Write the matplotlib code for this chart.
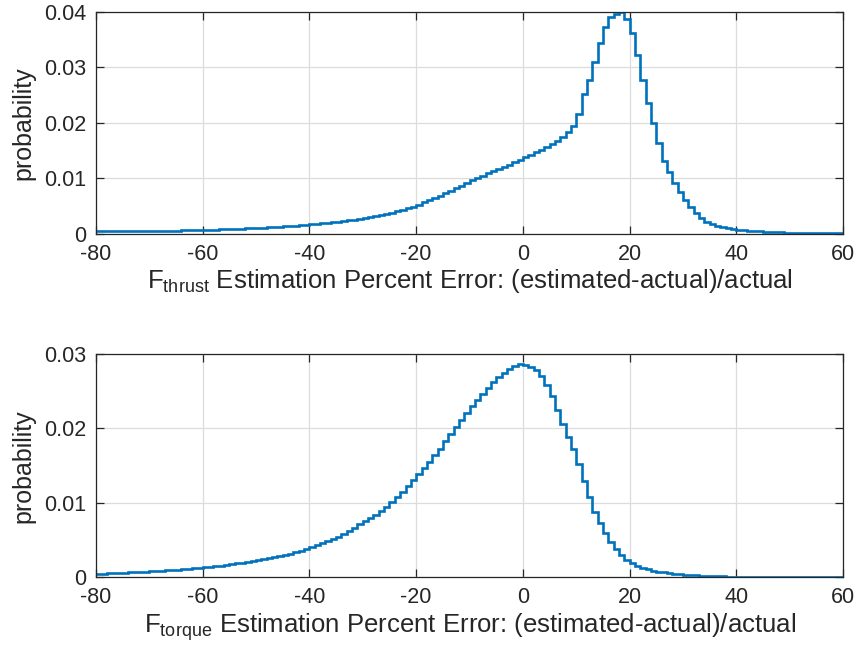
import numpy as np
import matplotlib
matplotlib.use("Agg")
import matplotlib.pyplot as plt

plt.rcParams['font.family'] = ['Liberation Sans', 'DejaVu Sans']

# histogram bins: 1 percent wide, -80 .. 60
bin_edges = np.arange(-80, 61, 1)

# probability per bin, thrust force estimate
thrust_prob = [
    # -80 .. -61
    0.00045, 0.00046, 0.00047, 0.00048, 0.00049, 0.00050, 0.00051, 0.00052, 0.00053, 0.00054,
    0.00055, 0.00056, 0.00057, 0.00059, 0.00060, 0.00062, 0.00064, 0.00066, 0.00068, 0.00070,
    # -60 .. -41
    0.00072, 0.00075, 0.00078, 0.00081, 0.00084, 0.00088, 0.00092, 0.00096, 0.00100, 0.00105,
    0.00110, 0.00115, 0.00120, 0.00126, 0.00132, 0.00138, 0.00145, 0.00152, 0.00160, 0.00170,
    # -40 .. -21
    0.00180, 0.00188, 0.00196, 0.00205, 0.00215, 0.00225, 0.00236, 0.00247, 0.00258, 0.00270,
    0.00283, 0.00300, 0.00318, 0.00338, 0.00360, 0.00384, 0.00410, 0.00437, 0.00465, 0.00495,
    # -20 .. -1
    0.0053, 0.0057, 0.0061, 0.0065, 0.0069, 0.0073, 0.0078, 0.0083, 0.0087, 0.0092,
    0.0097, 0.0101, 0.0105, 0.0109, 0.0113, 0.0117, 0.0121, 0.0125, 0.0129, 0.0134,
    # 0 .. 19
    0.0138, 0.0142, 0.0147, 0.0152, 0.0157, 0.0162, 0.0168, 0.0175, 0.0183, 0.0195,
    0.0217, 0.0253, 0.0277, 0.0310, 0.0344, 0.0373, 0.0391, 0.0396, 0.0400, 0.0388,
    # 20 .. 39
    0.0362, 0.0322, 0.0277, 0.0236, 0.0200, 0.0164, 0.0132, 0.0112, 0.0092, 0.0075,
    0.0061, 0.0049, 0.0038, 0.0028, 0.0022, 0.0018, 0.0014, 0.0012, 0.0010, 0.0009,
    # 40 .. 59
    0.00080, 0.00070, 0.00060, 0.00050, 0.00045, 0.00040, 0.00035, 0.00030, 0.00027, 0.00024,
    0.00020, 0.00018, 0.00016, 0.00015, 0.00014, 0.00013, 0.00012, 0.00011, 0.00010, 0.00010,
]

# probability per bin, torque force estimate
torque_prob = [
    # -80 .. -61
    0.00050, 0.00053, 0.00056, 0.00059, 0.00062, 0.00065, 0.00068, 0.00071, 0.00075, 0.00079,
    0.00083, 0.00087, 0.00091, 0.00096, 0.00101, 0.00106, 0.00111, 0.00117, 0.00123, 0.00130,
    # -60 .. -41
    0.00137, 0.00144, 0.00152, 0.00160, 0.00169, 0.00178, 0.00188, 0.00198, 0.00209, 0.00220,
    0.00232, 0.00245, 0.00258, 0.00272, 0.00287, 0.00303, 0.00320, 0.00338, 0.00357, 0.00377,
    # -40 .. -21
    0.0041, 0.0043, 0.0046, 0.0049, 0.0052, 0.0055, 0.0059, 0.0063, 0.0067, 0.0072,
    0.0076, 0.0080, 0.0084, 0.0089, 0.0094, 0.0101, 0.0108, 0.0115, 0.0123, 0.0131,
    # -20 .. -1
    0.0139, 0.0147, 0.0155, 0.0164, 0.0173, 0.0183, 0.0192, 0.0202, 0.0212, 0.0221,
    0.0230, 0.0238, 0.0246, 0.0254, 0.0262, 0.0269, 0.0275, 0.0280, 0.0284, 0.0286,
    # 0 .. 19
    0.0285, 0.0283, 0.0279, 0.0270, 0.0258, 0.0244, 0.0225, 0.0206, 0.0188, 0.0172,
    0.0152, 0.0130, 0.0108, 0.0088, 0.0073, 0.0060, 0.0048, 0.0038, 0.0030, 0.0024,
    # 20 .. 39
    0.00190, 0.00160, 0.00130, 0.00110, 0.00090, 0.00080, 0.00070, 0.00060, 0.00050, 0.00045,
    0.00040, 0.00035, 0.00030, 0.00025, 0.00020, 0.00018, 0.00016, 0.00014, 0.00012, 0.00010,
    # 40 .. 59
    0.00010, 0.00010, 0.00009, 0.00009, 0.00009, 0.00008, 0.00008, 0.00008, 0.00008, 0.00008,
    0.00008, 0.00008, 0.00008, 0.00008, 0.00008, 0.00008, 0.00008, 0.00008, 0.00008, 0.00008,
]

x_ticks = [-80, -60, -40, -20, 0, 20, 40, 60]
thrust_yticks = [0, 0.01, 0.02, 0.03, 0.04]
torque_yticks = [0, 0.01, 0.02, 0.03]
tick_labels_thrust = ['0', '0.01', '0.02', '0.03', '0.04']
tick_labels_torque = ['0', '0.01', '0.02', '0.03']

line_blue = '#0072BD'
axis_grey = '#262626'

fig = plt.figure(figsize=(8.59, 6.64), dpi=100)
ax1 = fig.add_axes([0.1118, 0.6476, 0.8696, 0.3344])
ax2 = fig.add_axes([0.1118, 0.1303, 0.8696, 0.3366])


def style_axes(ax, yticks, ylabels, ymax, xlabel):
    ax.set_xlim(-80, 60)
    ax.set_ylim(0, ymax)
    ax.set_xticks(x_ticks)
    ax.set_xticklabels([str(t) for t in x_ticks])
    ax.set_yticks(yticks)
    ax.set_yticklabels(ylabels)
    ax.grid(True, color='#dcdcdc', linewidth=0.9)
    ax.set_axisbelow(True)
    ax.tick_params(direction='in', length=6, width=0.9, colors=axis_grey,
                   labelsize=15.5, top=True, right=True, pad=7)
    for s in ax.spines.values():
        s.set_color(axis_grey)
        s.set_linewidth(0.9)
    ax.set_ylabel('probability', fontsize=18, color=axis_grey, labelpad=6)
    ax.set_xlabel(xlabel, fontsize=18.5, color=axis_grey, labelpad=2)


ax1.stairs(thrust_prob, bin_edges, baseline=None, color=line_blue, linewidth=1.9)
style_axes(ax1, thrust_yticks, tick_labels_thrust, 0.04,
           r'F$_\mathregular{thrust}$ Estimation Percent Error: (estimated-actual)/actual')

ax2.stairs(torque_prob, bin_edges, baseline=None, color=line_blue, linewidth=1.9)
style_axes(ax2, torque_yticks, tick_labels_torque, 0.03,
           r'F$_\mathregular{torque}$ Estimation Percent Error: (estimated-actual)/actual')

fig.savefig('out.png', dpi=100)
